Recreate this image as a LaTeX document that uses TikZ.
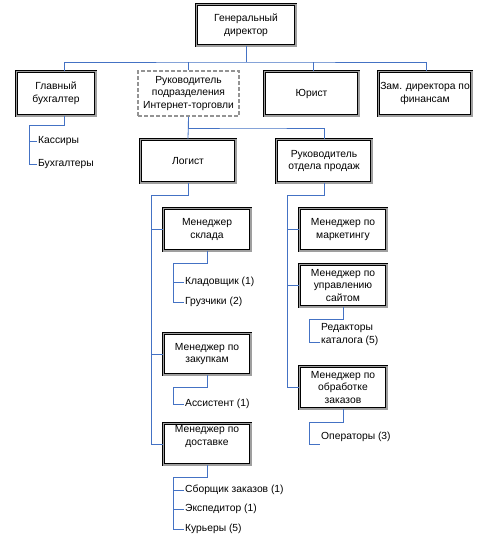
\documentclass[tikz,border=0pt]{standalone}
\usepackage{fontspec}
\setmainfont{Liberation Sans}
\usetikzlibrary{calc}
\definecolor{cblue}{RGB}{68,114,196}
\begin{document}
\begin{tikzpicture}[x=1pt,y=-1pt,
 box/.style={draw=black, line width=0.5pt, double=gray!75, double distance=1.7pt, align=center, inner sep=0pt, font=\fontsize{10.3}{12.8}\selectfont, fill=white},
 dbox/.style={draw=gray!85, dash pattern=on 4pt off 2pt, line width=1.8pt, align=center, inner sep=0pt, font=\fontsize{10.3}{12.8}\selectfont, fill=white},
 txt/.style={align=center, inner sep=0pt, font=\fontsize{10.3}{12.8}\selectfont},
 conn/.style={draw=cblue, line width=0.8pt},
 leaf/.style={anchor=west, inner sep=1pt, font=\fontsize{10.3}{12.8}\selectfont, align=left}]
\fill[white] (0,0) rectangle (478,549);
\useasboundingbox (0,0) rectangle (478,549);

% level 1
\node[box, minimum width=99.3pt, minimum height=41.3pt] (gd) at (246,25) {Генеральный\\директор};

% level 2
\node[box, minimum width=79.3pt, minimum height=44.3pt] (buh) at (56,93.5) {Главный\\бухгалтер};
\node[dbox, minimum width=101pt, minimum height=45pt] (ruk) at (188.5,93.5) {Руководитель\\подразделения\\Интернет-торговли};
\node[box, minimum width=94.3pt, minimum height=44.3pt] (yur) at (311.5,93.5) {Юрист};
\node[box, minimum width=93.3pt, minimum height=44.3pt] (zam) at (425,93.5) {Зам. директора по\\финансам};

\coordinate (hub) at (246,62);
\draw[conn] (gd.south) -- (hub);
\draw[conn] ($(buh.north)+(8,0)$) |- (hub) -| ($(zam.north)+(1,0)$);
\draw[conn] (ruk.north) -- (ruk.north |- hub);
\draw[conn] ($(yur.north)+(1.5,0)$) -- ($(yur.north |- hub)+(1.5,0)$);

% accountant leaves
\node[leaf] (kas) at (37,141) {Кассиры};
\node[leaf] (bux) at (37,164) {Бухгалтеры};
\coordinate (bt) at (29,125);
\draw[conn] ($(buh.south)+(8,0)$) |- (bt) |- (bux.west);
\draw[conn] (bt |- kas.west) -- (kas.west);

% level 3
\node[box, minimum width=95.3pt, minimum height=43.3pt] (log) at (188,161) {Логист};
\node[box, minimum width=95.3pt, minimum height=43.3pt] (pro) at (324,161) {Руководитель\\отдела продаж};
\coordinate (h3) at (250,128);
\draw[conn] (ruk.south) |- (h3) -| (pro.north);
\draw[conn] (ruk.south) -- (log.north);

% left column
\node[box, minimum width=87.3pt, minimum height=42.3pt] (skl) at (207,229.5) {Менеджер\\склада};
\node[box, minimum width=87.3pt, minimum height=41.3pt] (zak) at (207,354) {Менеджер по\\закупкам};
\node[box, minimum width=87.3pt, minimum height=41.3pt] (dos) at (207,444) {};
\node[txt] at (207,436.5) {Менеджер по\\доставке};
\coordinate (lt) at (151,195);
\draw[conn] (log.south) |- (lt) |- (dos.west);
\draw[conn] (lt |- skl.west) -- (skl.west);
\draw[conn] (lt |- zak.west) -- (zak.west);

% right column
\node[box, minimum width=87.3pt, minimum height=42.3pt] (mar) at (343,229.5) {Менеджер по\\маркетингу};
\node[box, minimum width=87.3pt, minimum height=42.3pt] (sai) at (343,285.5) {Менеджер по\\управлению\\сайтом};
\node[box, minimum width=87.3pt, minimum height=42.3pt] (obr) at (343,387.5) {Менеджер по\\обработке\\заказов};
\coordinate (rt) at (287,195);
\draw[conn] (pro.south) |- (rt) |- (obr.west);
\draw[conn] (rt |- mar.west) -- (mar.west);
\draw[conn] (rt |- sai.west) -- (sai.west);

% sklad leaves
\node[leaf] (kla) at (184,282) {Кладовщик (1)};
\node[leaf] (gru) at (184,302) {Грузчики (2)};
\coordinate (st) at (173,263);
\draw[conn] (skl.south) |- (st) |- (gru.west);
\draw[conn] (st |- kla.west) -- (kla.west);

% zakupki leaves
\node[leaf] (ass) at (184,404) {Ассистент (1)};
\coordinate (zt) at (173,387);
\draw[conn] (zak.south) |- (zt) |- (ass.west);

% dostavka leaves
\node[leaf] (sbo) at (184,490) {Сборщик заказов (1)};
\node[leaf] (eks) at (184,509) {Экспедитор (1)};
\node[leaf] (kur) at (184,529) {Курьеры (5)};
\coordinate (dt) at (173,477);
\draw[conn] (dos.south) |- (dt) |- (kur.west);
\draw[conn] (dt |- sbo.west) -- (sbo.west);
\draw[conn] (dt |- eks.west) -- (eks.west);

% sait leaves
\node[leaf, anchor=north west] (red) at (320,322) {Редакторы\\каталога (5)};
\coordinate (at) at (309,319);
\draw[conn] (sai.south) |- (at) -- (309,342) -- (red.west |- 0,342);

% obr leaves
\node[leaf] (ope) at (320,437) {Операторы (3)};
\coordinate (ot) at (309,422);
\draw[conn] (obr.south) |- (ot) -- (309,444) -- (ope.west |- 0,444);
\end{tikzpicture}
\end{document}
